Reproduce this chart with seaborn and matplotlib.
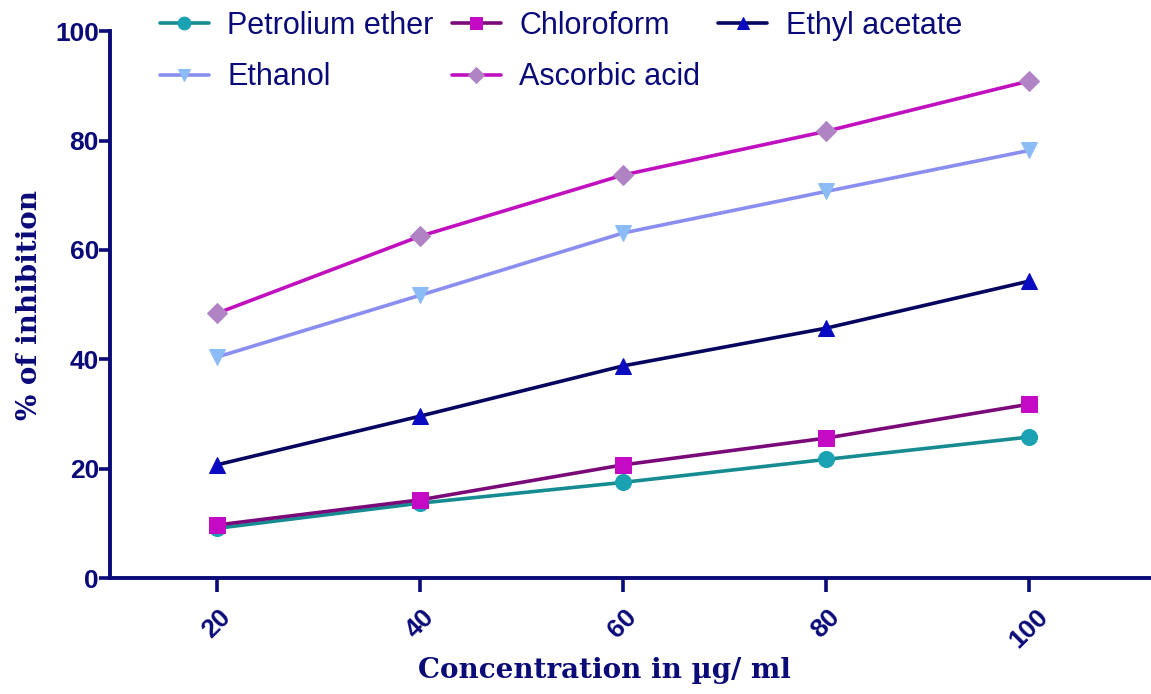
import pandas as pd
import seaborn as sns
from matplotlib import pyplot as plt

# Concentration (ug/ml)
conc = [20, 40, 60, 80, 100]

# % of inhibition per extract
petroleum_ether = [9.1, 13.7, 17.5, 21.7, 25.8]
chloroform = [9.7, 14.3, 20.7, 25.6, 31.8]
ethyl_acetate = [20.7, 29.6, 38.8, 45.7, 54.3]
ethanol = [40.4, 51.7, 63.1, 70.7, 78.2]
ascorbic_acid = [48.4, 62.5, 73.7, 81.7, 90.9]

series_names = ['Petrolium ether', 'Chloroform', 'Ethyl acetate', 'Ethanol', 'Ascorbic acid']
series_values = [petroleum_ether, chloroform, ethyl_acetate, ethanol, ascorbic_acid]

navy = '#0a0a78'

# line colour, marker colour, marker shape
styles = {
    'Petrolium ether': ('#168c92', '#1aa2b2', 'o'),
    'Chloroform': ('#7a0a7a', '#c40ac4', 's'),
    'Ethyl acetate': ('#060660', '#0a0ac0', '^'),
    'Ethanol': ('#8a8ef0', '#8cbcf6', 'v'),
    'Ascorbic acid': ('#c010c0', '#b084c4', 'D'),
}

sns.set_style('white')
plt.rcParams['font.family'] = ['Liberation Sans', 'DejaVu Sans']

fig = plt.figure(figsize=(11.51, 6.94), dpi=100)
ax = fig.add_axes([0.0956, 0.167, 0.9044, 0.788])

handles = {}
for name, vals in zip(series_names, series_values):
    line_c, mark_c, mk = styles[name]
    df = pd.DataFrame({'conc': conc, 'inh': vals})
    sns.lineplot(data=df, x='conc', y='inh', ax=ax, color=line_c, linewidth=2.6,
                 marker=mk, markersize=11.5 if mk != 'D' else 10,
                 markerfacecolor=mark_c, markeredgecolor=mark_c, clip_on=False)
    handles[name] = ax.lines[-1]

ax.set_xlim(9.5, 112)
ax.set_ylim(0, 100)
ax.set_xticks(conc)
ax.set_yticks([0, 20, 40, 60, 80, 100])

for side in ['top', 'right']:
    ax.spines[side].set_visible(False)
for side in ['left', 'bottom']:
    ax.spines[side].set_color(navy)
    ax.spines[side].set_linewidth(2.8)

ax.tick_params(axis='y', direction='out', length=8, width=2.6, color=navy,
               labelcolor=navy, labelsize=19, pad=0, left=True)
ax.tick_params(axis='x', direction='out', length=10, width=2.6, color=navy,
               labelcolor=navy, labelsize=19, pad=9, bottom=True)
for lab in ax.get_xticklabels():
    lab.set_rotation(45)
    lab.set_ha('center')
    lab.set_va('top')
for lab in ax.get_xticklabels() + ax.get_yticklabels():
    lab.set_fontweight('bold')

ax.set_xlabel('Concentration in µg/ ml', fontsize=20, fontweight='bold', color=navy,
              family='DejaVu Serif')
ax.set_ylabel('% of inhibition', fontsize=20, fontweight='bold', color=navy,
              family='DejaVu Serif')
ax.xaxis.set_label_coords(0.475, -0.145)
ax.yaxis.set_label_coords(-0.064, 0.5)

# legend in row order: reorder for column-major fill
order = ['Petrolium ether', 'Ethanol', 'Chloroform', 'Ascorbic acid', 'Ethyl acetate']
leg = fig.legend([handles[n] for n in order], order, ncol=3, loc='upper left',
                 bbox_to_anchor=(0.115, 1.024), frameon=False, fontsize=22,
                 handlelength=1.6, handletextpad=0.6, columnspacing=0.6,
                 labelspacing=0.7, markerscale=0.8)
for t in leg.get_texts():
    t.set_color(navy)

plt.savefig('out.png', dpi=100)
